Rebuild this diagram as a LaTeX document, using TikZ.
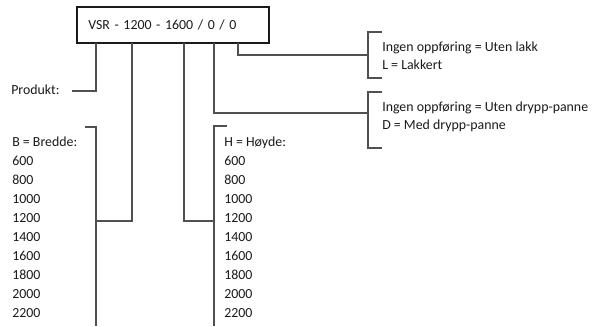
\documentclass[tikz,border=0pt]{standalone}
\usepackage{fontspec}
\setmainfont{Carlito}
\usepackage{tikz}
\usetikzlibrary{calc}
\definecolor{INK}{HTML}{1A1A1A}
\definecolor{LINE}{HTML}{505050}

\begin{document}
\begin{tikzpicture}[x=0.75pt,y=-0.75pt]
\tikzset{ln/.style={LINE,line width=0.8pt},txt/.style={INK,inner sep=0pt,font=\fontsize{10.4}{12}\selectfont},
 kodebox/.style={draw=LINE,line width=0.8pt,minimum width=144pt,minimum height=27pt,text width=127pt,
 align=left,inner xsep=8.5pt,INK,font=\fontsize{10.4}{12}\selectfont}}
\useasboundingbox (0,0) rectangle (597,326);
\node[kodebox] (kode) at (173,25) {VSR - 1200 - 1600 / 0 / 0};
\node[txt,anchor=base west] (produkt) at (11,94) {Produkt:};
\foreach \v [count=\i] in {B = Bredde:,600,800,1000,1200,1400,1600,1800,2000,2200}
 \node[txt,anchor=base west] (b\i) at (12,128+18.9*\i) {\v};
\foreach \v [count=\i] in {H = Høyde:,600,800,1000,1200,1400,1600,1800,2000,2200}
 \node[txt,anchor=base west] (h\i) at (224,128+18.9*\i) {\v};
\node[txt,anchor=base west] (lakk1) at (382,51) {Ingen oppføring = Uten lakk};
\node[txt,anchor=base west] (lakk2) at (382,69) {L = Lakkert};
\node[txt,anchor=base west] (drypp1) at (382,111) {Ingen oppføring = Uten drypp-panne};
\node[txt,anchor=base west] (drypp2) at (382,129) {D = Med drypp-panne};
% punkter under boksen
\coordinate (sP) at (96,43);\coordinate (sB) at (132,43);\coordinate (sH) at (184,43);
\coordinate (sD) at (214,43);\coordinate (sL) at (238,43);
\coordinate (pE) at (72,91);
% klammer
\draw[ln] (85,127) -- (96,127) coordinate (bK) -- (96,326);
\draw[ln] (227,126) -- (214,126) coordinate (hK) -- (214,326);
\draw[ln] (382,32) -- (368,32) coordinate (lK) -- (368,78) -- (382,78);
\draw[ln] (382,92) -- (368,92) coordinate (dK) -- (368,148) -- (382,148);
% forbindelser
\draw[ln] (sP) |- (pE);
\draw[ln] (sB) |- (bK |- 0,221);
\draw[ln] (sH) |- (hK |- 0,221);
\draw[ln] (sD) |- (dK |- 0,113);
\draw[ln] (sL) |- (lK |- 0,55);
\end{tikzpicture}
\end{document}
